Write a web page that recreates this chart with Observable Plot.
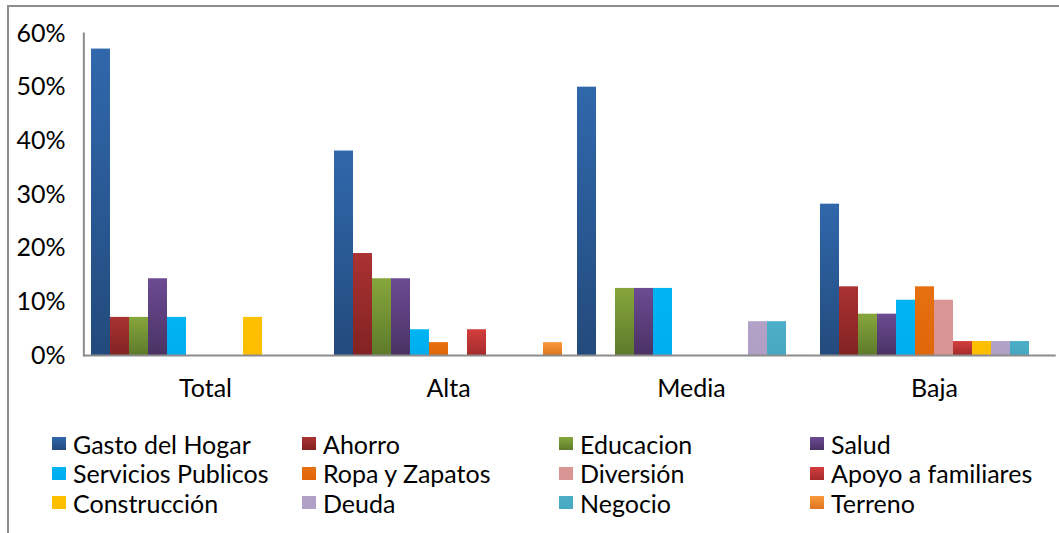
<!DOCTYPE html>
<html>
<head>
<meta charset="utf-8">
<script src="https://cdn.jsdelivr.net/npm/d3@7"></script>
<script src="https://cdn.jsdelivr.net/npm/@observablehq/plot@0.6"></script>
<style>
  html, body { margin: 0; padding: 0; background: #fff; }
  #wrap { position: relative; width: 1059px; height: 533px; overflow: hidden; font-family: Lato, "Open Sans", sans-serif; color: #000; }
  #chart { position: absolute; left: 0; top: 0; }
  #frame { position: absolute; left: 7px; top: 5px; width: 1100px; height: 600px; border-top: 2px solid #8c8c8c; border-left: 2px solid #8c8c8c; pointer-events: none; }
  #legend { position: absolute; left: 52px; top: 429px; display: grid; grid-template-columns: 250px 257px 251px auto; grid-auto-rows: 29.5px; font-size: 25px; }
  .item { display: flex; align-items: center; white-space: nowrap; }
  .sw { width: 14px; height: 13px; margin-right: 7px; flex: none; }
</style>
</head>
<body>
<div id="wrap">
  <div id="chart"></div>
  <div id="legend"></div>
  <div id="frame"></div>
</div>
<script>
// ---- data ----
const categories = ["Total", "Alta", "Media", "Baja"];
const series = ["Gasto del Hogar", "Ahorro", "Educacion", "Salud", "Servicios Publicos", "Ropa y Zapatos", "Diversión", "Apoyo a familiares", "Construcción", "Deuda", "Negocio", "Terreno"];
const total = [57.1, 7.1, 7.1, 14.3, 7.1, 0, 0, 0, 7.1, 0, 0, 0];
const alta  = [38.1, 19.0, 14.3, 14.3, 4.8, 2.4, 0, 4.8, 0, 0, 0, 2.4];
const media = [50.0, 0, 12.5, 12.5, 12.5, 0, 0, 0, 0, 6.3, 6.3, 0];
const baja  = [28.2, 12.8, 7.7, 7.7, 10.3, 12.8, 10.3, 2.6, 2.6, 2.6, 2.6, 0];
const yTicks = [0, 10, 20, 30, 40, 50, 60];

// ---- style ----
const gradTop    = ["#3068AC", "#AA3232", "#86A63C", "#6C4B93", "#00B4F2", "#E6700F", "#DA9694", "#D43E3E", "#FFC000", "#B3A2C8", "#4CAEC8", "#FA9A3C"];
const gradBottom = ["#234A7C", "#832222", "#5E7A2B", "#4A3264", "#00ADEE", "#E0660A", "#D89392", "#A42B2B", "#FDBE00", "#AF9FC5", "#47A8C2", "#DE7420"];

const byCat = [total, alta, media, baja];
const rows = [];
categories.forEach((c, ci) => series.forEach((s, si) => {
  if (byCat[ci][si] > 0) rows.push({cat: c, series: s, value: byCat[ci][si]});
}));

const gradIds = series.map((s, i) => `grad${i}`);
const font = "Lato";
const fs = 25;

const plot = Plot.plot({
  width: 1059,
  height: 410,
  marginLeft: 82,
  marginRight: 2,
  marginTop: 33,
  marginBottom: 55,
  style: {fontFamily: font, fontSize: fs + "px", color: "#000", background: "transparent"},
  fx: {domain: categories, paddingInner: 0.0546, paddingOuter: 0.0273, axis: "bottom", tickSize: 0, tickPadding: 24, label: null},
  x: {domain: series, padding: 0, axis: null},
  y: {domain: [0, 60], axis: null},
  color: {domain: series, range: gradIds.map(id => `url(#${id})`)},
  marks: [
    Plot.barY(rows, {fx: "cat", x: "series", y: "value", fill: "series"}),
    Plot.ruleY([0], {insetLeft: -6.7, insetRight: -6.7, stroke: "#8c8c8c", strokeWidth: 2}),
    Plot.frame({anchor: "left", facetAnchor: "left", insetLeft: -6.65, stroke: "#8c8c8c", strokeWidth: 2}),
    Plot.axisY({ticks: yTicks, tickSize: 0, tickPadding: 25, tickFormat: d => `${d}%`, label: null, facetAnchor: "left", fill: "#000"})
  ]
});

// gradients
const svgNS = "http://www.w3.org/2000/svg";
const defs = document.createElementNS(svgNS, "defs");
series.forEach((s, i) => {
  const g = document.createElementNS(svgNS, "linearGradient");
  g.setAttribute("id", gradIds[i]);
  g.setAttribute("x1", "0"); g.setAttribute("y1", "0"); g.setAttribute("x2", "0"); g.setAttribute("y2", "1");
  [[0, gradTop[i]], [1, gradBottom[i]]].forEach(([o, c]) => {
    const st = document.createElementNS(svgNS, "stop");
    st.setAttribute("offset", o);
    st.setAttribute("stop-color", c);
    g.appendChild(st);
  });
  defs.appendChild(g);
});
plot.insertBefore(defs, plot.firstChild);
document.getElementById("chart").appendChild(plot);

// legend (row-major, 4 columns)
const legend = document.getElementById("legend");
series.forEach((s, i) => {
  const item = document.createElement("div");
  item.className = "item";
  const sw = document.createElement("span");
  sw.className = "sw";
  sw.style.background = `linear-gradient(${gradTop[i]}, ${gradBottom[i]})`;
  const t = document.createElement("span");
  t.textContent = s;
  item.appendChild(sw);
  item.appendChild(t);
  legend.appendChild(item);
});
</script>
</body>
</html>
